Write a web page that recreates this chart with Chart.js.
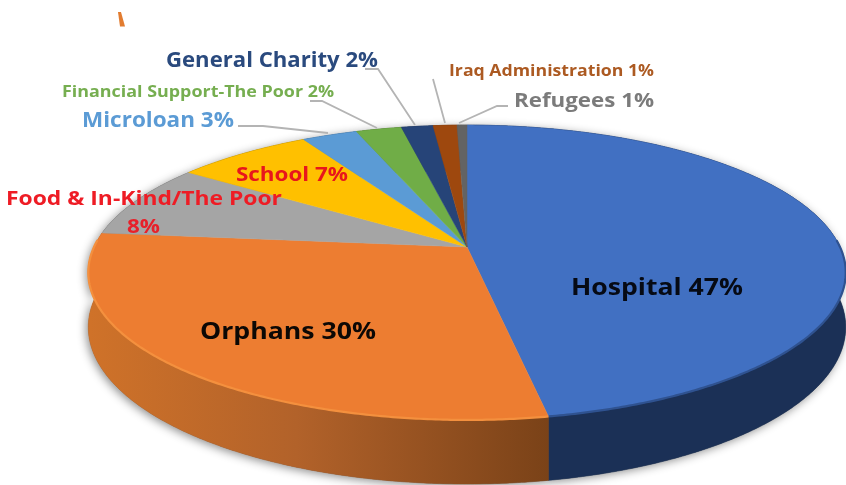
<!DOCTYPE html>
<html>
<head>
<meta charset="utf-8">
<style>
html,body{margin:0;padding:0;background:#fff;overflow:hidden}
#wrap{width:846px;height:485px}
canvas{display:block;filter:blur(0.6px)}
</style>
<script src="https://cdn.jsdelivr.net/npm/chart.js@4/dist/chart.umd.min.js"></script>
</head>
<body>
<div id="wrap"><canvas id="c" width="846" height="485"></canvas></div>
<script>
const categories = ["Hospital","Orphans","Food & In-Kind/The Poor","School","Microloan","Financial Support-The Poor","General Charity","Iraq Administration","Refugees"];
const sliceValues = [47.1,29.5,8.1,6.9,2.8,2.3,1.6,1.2,0.5];
const sliceColors = ["#4170c2","#ed7d31","#a5a5a5","#ffc000","#5b9bd5","#70ad47","#264478","#9e480e","#636363"];
const wallColors  = ["#1b3056","#c56c2a","#6e6e6e","#a88000","#3c6a94","#4a7530","#192d50","#6a3009","#424242"];
const rimColors   = ["#2f5290","#f4903e","#a5a5a5","#ffc000","#5b9bd5","#70ad47","#264478","#9e480e","#636363"];

const labelTexts = [
  {t:"General Charity 2%",x:166,y:61,w:212,s:21,c:"#2a4a7e"},
  {t:"Financial Support-The Poor 2%",x:62,y:92,w:272,s:16,c:"#76ae50"},
  {t:"Microloan 3%",x:82,y:121,w:152,s:21,c:"#5b9bd5"},
  {t:"School 7%",x:236,y:176,w:112,s:19,c:"#e8161c"},
  {t:"Food & In-Kind/The Poor",x:6,y:199,w:276,s:20,c:"#ee1c25"},
  {t:"8%",x:127,y:227,w:33,s:20,c:"#e8202a"},
  {t:"Iraq Administration 1%",x:449,y:71,w:205,s:16,c:"#ac5a22"},
  {t:"Refugees 1%",x:514,y:101,w:140,s:20,c:"#7b7b7b"},
  {t:"Hospital 47%",x:571,y:288.5,w:172,s:23,c:"#060a14"},
  {t:"Orphans 30%",x:200,y:332.5,w:176,s:23,c:"#0c0805"}
];
const leaderLines = [
  [[365,69],[378,69],[415,125]],
  [[310,101],[322,101],[377,128]],
  [[238,126],[263,126],[328,133]],
  [[433,79],[445,123]],
  [[508,106],[497,106],[459,123]]
];
const cornerMark = [[118,12],[121,12],[125,26.5],[120,26.5]];

const TILT = {rx:373, ry:143, p:0.173, depth:53};

function project(el, a, depth){
  const u = Math.cos(a), v = Math.sin(a);
  const w = 1/(1 - TILT.p*v);
  return [el.x + TILT.rx*u*w, el.y + TILT.ry*v*w + depth*w];
}
function arcPts(el, depth, reverse, frontOnly){
  const pts = [];
  const n = Math.max(2, Math.ceil((el.endAngle-el.startAngle)/(Math.PI/360)));
  for(let i=0;i<=n;i++){
    const a = el.startAngle + (el.endAngle-el.startAngle)*i/n;
    if(frontOnly && Math.sin(a) < -0.05) continue;
    pts.push(project(el,a,depth));
  }
  return reverse ? pts.reverse() : pts;
}
function poly(ctx, pts, close){
  ctx.beginPath();
  pts.forEach((p,i)=> i?ctx.lineTo(p[0],p[1]):ctx.moveTo(p[0],p[1]));
  if(close) ctx.closePath();
}

const pie3d = {
  id:'pie3d',
  beforeDatasetsDraw(chart){
    const ctx = chart.ctx, arcs = chart.getDatasetMeta(0).data;
    ctx.save();
    // soft shadow under the whole disc
    ctx.save();
    ctx.shadowColor = 'rgba(0,0,0,0.45)';
    ctx.shadowBlur = 10;
    ctx.shadowOffsetY = 2;
    ctx.shadowOffsetX = -2;
    ctx.fillStyle = '#555';
    arcs.forEach(el=>{
      poly(ctx, arcPts(el,TILT.depth,false).concat(arcPts(el,0,true)), true);
      ctx.fill();
    });
    ctx.restore();
    // walls
    arcs.forEach((el,i)=>{
      poly(ctx, arcPts(el,0,false).concat(arcPts(el,TILT.depth,true)), true);
      if(i===1){
        const g = ctx.createLinearGradient(90,0,549,0);
        g.addColorStop(0, '#cf7229');
        g.addColorStop(0.45, '#b2622a');
        g.addColorStop(1, '#7a4218');
        ctx.fillStyle = g;
      } else ctx.fillStyle = wallColors[i];
      ctx.fill();
      ctx.strokeStyle = ctx.fillStyle; ctx.lineWidth = 0.6; ctx.stroke();
    });
    // top faces
    arcs.forEach((el,i)=>{
      poly(ctx, [[el.x,el.y]].concat(arcPts(el,0,false)), true);
      ctx.fillStyle = sliceColors[i];
      ctx.fill();
      ctx.strokeStyle = sliceColors[i]; ctx.lineWidth = 0.5; ctx.stroke();
    });
    // bevel along the front rim only
    arcs.forEach((el,i)=>{
      if(i>1) return;
      poly(ctx, arcPts(el,0,false,true), false);
      ctx.strokeStyle = rimColors[i]; ctx.lineWidth = 2.2; ctx.lineJoin='round';
      ctx.stroke();
    });
    ctx.restore();
    return false;
  },
  afterDraw(chart){
    const ctx = chart.ctx;
    ctx.save();
    ctx.strokeStyle = '#b4b4b4'; ctx.lineWidth = 1.8;
    leaderLines.forEach(l=>{ poly(ctx,l,false); ctx.stroke(); });
    ctx.fillStyle = '#e27c30';
    poly(ctx,cornerMark,true); ctx.fill();
    ctx.textBaseline = 'middle'; ctx.textAlign = 'left';
    labelTexts.forEach(l=>{
      ctx.font = `700 ${l.s}px "Open Sans"`;
      const m = ctx.measureText(l.t).width;
      ctx.save();
      ctx.translate(l.x,l.y);
      ctx.scale(l.w/m,1);
      ctx.fillStyle = l.c;
      ctx.fillText(l.t,0,0);
      ctx.restore();
    });
    ctx.restore();
  }
};

new Chart(document.getElementById('c'),{
  type:'pie',
  data:{labels:categories,datasets:[{data:sliceValues,backgroundColor:sliceColors,borderWidth:0}]},
  options:{
    responsive:false,animation:false,
    layout:{padding:{left:88,top:9}},
    plugins:{legend:{display:false},tooltip:{enabled:false},title:{display:false}}
  },
  plugins:[pie3d]
});
</script>
</body>
</html>
